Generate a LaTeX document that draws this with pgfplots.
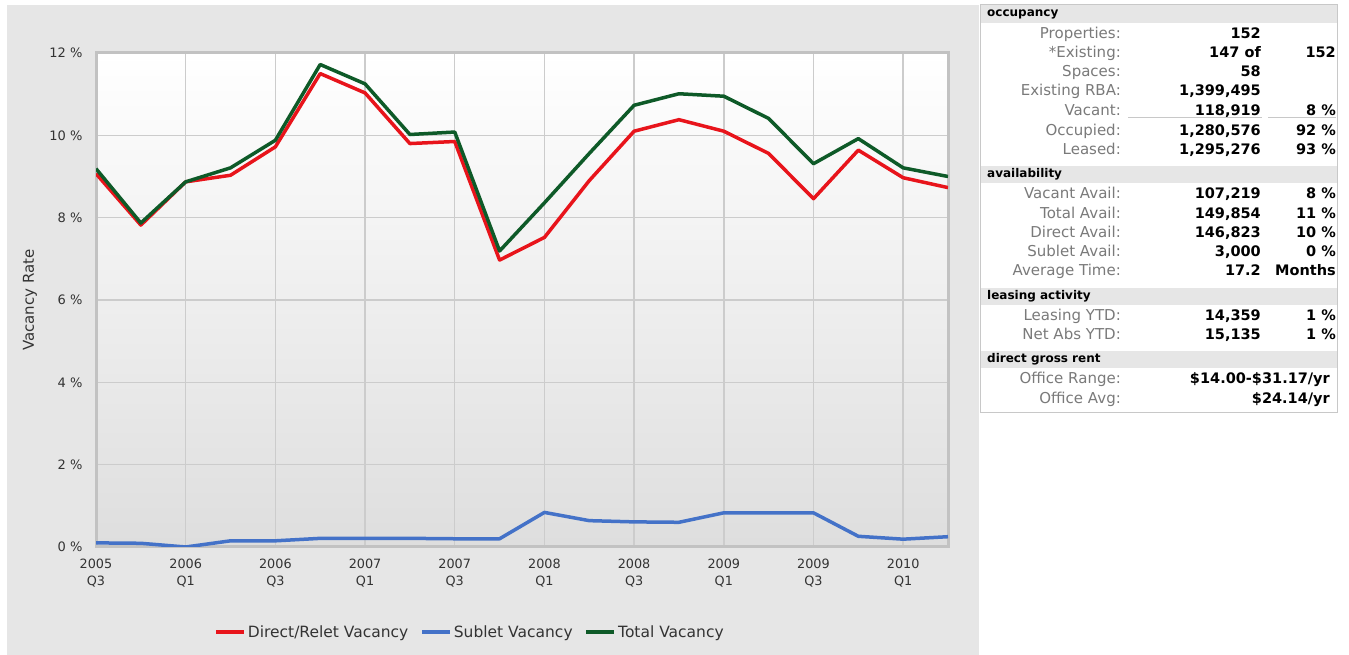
\documentclass[border=0pt]{standalone}
\usepackage{fontspec}
\setmainfont{DejaVu Sans}
\usepackage{pgfplots}
\pgfplotsset{compat=1.18}
\definecolor{cred}{HTML}{E8141B}
\definecolor{cblue}{HTML}{4472C8}
\definecolor{cgreen}{HTML}{0E5A28}
\definecolor{panel}{HTML}{E6E6E6}
\definecolor{gridc}{HTML}{CCCCCC}
\definecolor{borderc}{HTML}{C2C2C2}
\definecolor{labc}{HTML}{7A7A7A}
\definecolor{tabline}{HTML}{C8C8C8}
\definecolor{txt}{HTML}{333333}

\newcommand\trow[4]{%
 \node[anchor=base east,inner sep=0,text=labc,font=\fontsize{15}{18}\selectfont] at (1121,{655-#1-5.3}) {#2};
 \node[anchor=base east,inner sep=0,font=\bfseries\fontsize{14.5}{18}\selectfont] at (1261,{655-#1-5.3}) {#3};
 \node[anchor=base east,inner sep=0,font=\bfseries\fontsize{14.5}{18}\selectfont] at (1336,{655-#1-5.3}) {#4};}
\newcommand\thead[3]{%
 \fill[panel] (981,{655-#2}) rectangle (1337,{655-#1});
 \node[anchor=west,inner sep=0,font=\bfseries\fontsize{12}{14}\selectfont] at (987,{655-(#1+#2)/2}) {#3};}

\begin{document}
\begin{tikzpicture}[x=1pt,y=1pt]
\fill[white] (0,0) rectangle (1349,655);
\fill[panel] (7,0) rectangle (979,650);
\node[rotate=90,font=\fontsize{15}{18}\selectfont,text=txt] at (30,355) {Vacancy Rate};
\begin{axis}[
  at={(96pt,108pt)}, anchor=south west,
  scale only axis, width=852pt, height=494pt,
  xmin=0, xmax=19, ymin=0, ymax=12,
  xtick={0,2,...,18},
  xticklabels={{2005\\Q3},{2006\\Q1},{2006\\Q3},{2007\\Q1},{2007\\Q3},{2008\\Q1},{2008\\Q3},{2009\\Q1},{2009\\Q3},{2010\\Q1}},
  ytick={0,2,...,12},
  yticklabels={0 \%,2 \%,4 \%,6 \%,8 \%,10 \%,12 \%},
  xticklabel style={align=center, font=\fontsize{12.8}{17}\selectfont, text=txt, yshift=-8pt},
  yticklabel style={font=\fontsize{13}{15}\selectfont, text=txt, xshift=-10pt},
  major tick length=0pt,
  grid=major, major grid style={gridc, line width=1.5pt},
  axis line style={borderc, line width=3pt},
  axis background/.style={top color=white, bottom color=black!13},
  legend columns=3,
  legend style={at={(0.439,-0.172)}, anchor=center, draw=none, fill=none,
    font=\fontsize{15.5}{18}\selectfont, text=txt,
    /tikz/every even column/.append style={column sep=10pt}},
  legend image code/.code={\draw[#1, line width=3.5pt] (0pt,0pt) -- (28pt,0pt);},
]
\addplot[cred, line width=3.5pt, line join=round, mark=none] coordinates {
(0,9.07) (1,7.82) (2,8.87) (3,9.03) (4,9.72) (5,11.50) (6,11.03) (7,9.80) (8,9.85) (9,6.97)
(10,7.52) (11,8.90) (12,10.10) (13,10.38) (14,10.10) (15,9.56) (16,8.46) (17,9.64) (18,8.97) (19,8.73)};
\addlegendentry{Direct/Relet Vacancy}
\addplot[cblue, line width=3.5pt, line join=round, mark=none] coordinates {
(0,0.10) (1,0.09) (2,0.0) (3,0.15) (4,0.15) (5,0.21) (6,0.21) (7,0.21) (8,0.20) (9,0.20)
(10,0.84) (11,0.64) (12,0.61) (13,0.60) (14,0.83) (15,0.83) (16,0.83) (17,0.26) (18,0.19) (19,0.25)};
\addlegendentry{Sublet Vacancy}
\addplot[cgreen, line width=3.5pt, line join=round, mark=none] coordinates {
(0,9.19) (1,7.87) (2,8.87) (3,9.21) (4,9.88) (5,11.72) (6,11.25) (7,10.02) (8,10.08) (9,7.19)
(10,8.36) (11,9.56) (12,10.73) (13,11.01) (14,10.95) (15,10.41) (16,9.31) (17,9.92) (18,9.21) (19,9.00)};
\addlegendentry{Total Vacancy}
\end{axis}
% table panel
\draw[tabline, line width=1pt] (980.5,242.5) rectangle (1337.5,650);
\thead{5}{23}{occupancy}
\trow{33}{Properties:}{152}{}
\trow{52}{*Existing:}{147 of}{152}
\trow{71}{Spaces:}{58}{}
\trow{90}{Existing RBA:}{1,399,495}{}
\trow{110}{Vacant:}{118,919}{8 \%}
\draw[tabline, line width=1pt] (1128,537) -- (1262,537);
\draw[tabline, line width=1pt] (1268,537) -- (1336,537);
\trow{130}{Occupied:}{1,280,576}{92 \%}
\trow{149}{Leased:}{1,295,276}{93 \%}
\thead{166}{183}{availability}
\trow{193}{Vacant Avail:}{107,219}{8 \%}
\trow{213}{Total Avail:}{149,854}{11 \%}
\trow{232}{Direct Avail:}{146,823}{10 \%}
\trow{251}{Sublet Avail:}{3,000}{0 \%}
\trow{270}{Average Time:}{17.2}{Months}
\thead{288}{305}{leasing activity}
\trow{315}{Leasing YTD:}{14,359}{1 \%}
\trow{334}{Net Abs YTD:}{15,135}{1 \%}
\thead{351}{368}{direct gross rent}
\trow{378}{Office Range:}{}{}
\trow{398}{Office Avg:}{}{}
\node[anchor=base east,inner sep=0,font=\bfseries\fontsize{14.5}{18}\selectfont] at (1330,{655-378-5.3}) {\$14.00-\$31.17/yr};
\node[anchor=base east,inner sep=0,font=\bfseries\fontsize{14.5}{18}\selectfont] at (1330,{655-398-5.3}) {\$24.14/yr};
\end{tikzpicture}
\end{document}
